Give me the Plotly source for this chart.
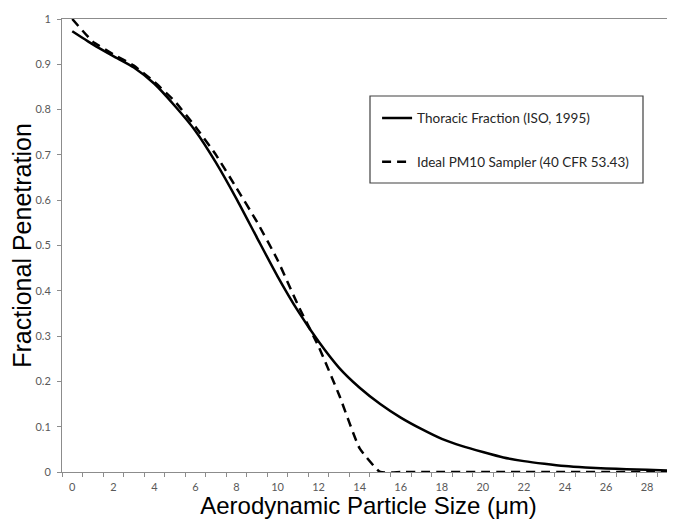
import plotly.graph_objects as go

sizes = list(range(0, 30))
thoracic = [0.973, 0.944, 0.918, 0.893, 0.857, 0.808, 0.753, 0.683, 0.603, 0.517,
            0.432, 0.355, 0.288, 0.230, 0.186, 0.150, 0.120, 0.095, 0.073, 0.057,
            0.044, 0.032, 0.024, 0.018, 0.013, 0.010, 0.008, 0.006, 0.005, 0.003]
pm10 = [1.000, 0.950, 0.922, 0.897, 0.861, 0.818, 0.762, 0.700, 0.627, 0.552,
        0.468, 0.368, 0.277, 0.170, 0.052, 0.0, 0.0, 0.0, 0.0, 0.0,
        0.0, 0.0, 0.0, 0.0, 0.0, 0.0, 0.0, 0.0, 0.0, 0.0]
x_tick_vals = list(range(0, 30, 2))
y_tick_vals = [0, 0.1, 0.2, 0.3, 0.4, 0.5, 0.6, 0.7, 0.8, 0.9, 1]
y_tick_text = ["0", "0.1", "0.2", "0.3", "0.4", "0.5", "0.6", "0.7", "0.8", "0.9", "1"]

fig = go.Figure()
fig.add_trace(go.Scatter(x=sizes, y=thoracic, mode="lines",
                         name="Thoracic Fraction (ISO, 1995)", legendgroup="a",
                         line=dict(color="black", width=2.5, shape="spline", smoothing=0.6)))
fig.add_trace(go.Scatter(x=sizes, y=pm10, mode="lines",
                         name="Ideal PM10 Sampler (40 CFR 53.43)", legendgroup="b",
                         line=dict(color="black", width=2.5, dash="9px,6px", shape="spline", smoothing=0.4)))

tickfont = dict(family="Lato, Carlito, sans-serif", size=11, color="#595959")
PLOT_W = 613
fig.update_layout(
    width=667, height=511,
    margin=dict(l=54, r=0, t=11, b=47),
    paper_bgcolor="white", plot_bgcolor="white",
    showlegend=True,
    legend=dict(x=0.514, y=0.815, xanchor="left", yanchor="top",
                bgcolor="rgba(0,0,0,0)", borderwidth=0,
                font=dict(family="Lato, Carlito, sans-serif", size=13.5, color="#262626"),
                tracegroupgap=23, traceorder="grouped"),
    xaxis=dict(range=[-0.5, 29.36], tickmode="array", tickvals=x_tick_vals,
               ticks="", showgrid=False, zeroline=False,
               showline=True, linecolor="#8c8c8c", linewidth=1, mirror=True,
               tickfont=tickfont, ticklabelstandoff=5,
               minor=dict(tickmode="linear", tick0=-0.5, dtick=1, ticks="outside",
                          ticklen=4, tickcolor="#8c8c8c", tickwidth=1, showgrid=False),
               title=dict(text="Aerodynamic Particle Size (μm)", standoff=5,
                          font=dict(family="Arial, Liberation Sans, sans-serif", size=24, color="black"))),
    yaxis=dict(range=[0, 1], tickmode="array", tickvals=y_tick_vals, ticktext=y_tick_text,
               ticks="outside", ticklen=4, tickcolor="#8c8c8c",
               showgrid=False, zeroline=False,
               showline=True, linecolor="#8c8c8c", linewidth=1,
               tickfont=tickfont, ticklabelstandoff=4,
               title=dict(text="Fractional Penetration", standoff=4,
                          font=dict(family="Arial, Liberation Sans, sans-serif", size=25, color="black"))),
    shapes=[dict(type="rect", xref="paper", yref="paper",
                 x0=(370 - 62) / PLOT_W, x1=(643 - 62) / PLOT_W,
                 y0=(472 - 183) / 453, y1=(472 - 96) / 453,
                 line=dict(color="#404040", width=1.2), fillcolor="rgba(0,0,0,0)")],
)

fig.write_html("out.html")
